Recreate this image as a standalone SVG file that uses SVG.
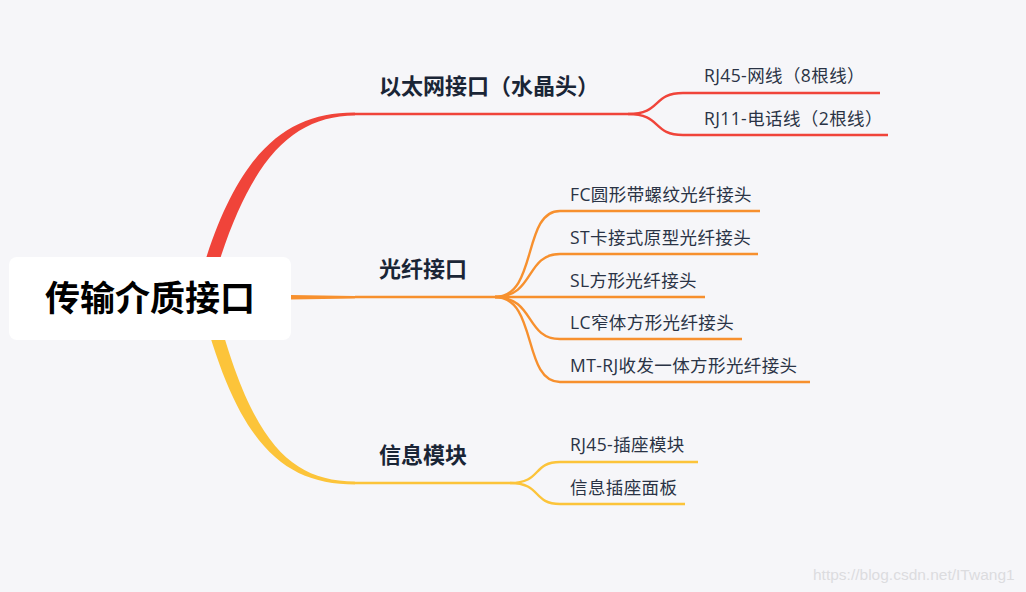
<svg xmlns="http://www.w3.org/2000/svg" width="1026" height="592" viewBox="0 0 1026 592">
<defs>
<style>
.main{font-family:"Noto Sans CJK SC","Noto Sans",sans-serif;font-weight:700;font-size:22px;fill:#1a2536}
.sub{font-family:"Open Sans","Noto Sans CJK SC",sans-serif;font-size:17.5px;letter-spacing:0.4px;fill:#2a3345}
.red{stroke:#f0443a;fill:none;stroke-width:2.4}
.org{stroke:#f7902e;fill:none;stroke-width:2.4}
.yel{stroke:#fcc43a;fill:none;stroke-width:2.4}
</style>
</defs>
<rect width="1026" height="592" fill="#f6f6f9"/>
<g id="connectors">
<path d="M194,300 C230,160 280,112 355,112.5 L355,115.5 C288,116 244,165 208,300 Z" fill="#f0443a"/>
<path class="red" d="M355,114 L628,114"/>
<path class="red" d="M628,114 C662,114 652,93 683,93 L880,93"/>
<path class="red" d="M628,114 C662,114 652,135 683,135 L888,135"/>
<path d="M291,295 L355,296 L355,298.5 L291,299.5 Z" fill="#f7902e"/>
<path class="org" d="M355,297 L495,297"/>
<path class="org" d="M495,297 C538,297 522,211 560,211 L760,211"/>
<path class="org" d="M495,297 C535,297 525,254 560,254 L758,254"/>
<path class="org" d="M495,297 L705,297"/>
<path class="org" d="M495,297 C535,297 525,339 560,339 L742,339"/>
<path class="org" d="M495,297 C538,297 522,382 560,382 L810,382"/>
<path d="M200,300 C236,440 280,484.5 355,484.5 L355,481.5 C288,481 250,440 214,300 Z" fill="#fcc43a"/>
<path class="yel" d="M355,483 L510,483"/>
<path class="yel" d="M510,483 C542,483 532,462 560,462 L698,462"/>
<path class="yel" d="M510,483 C542,483 532,504 560,504 L685,504"/>
</g>
<g id="root">
<rect x="9" y="257" width="282" height="83" rx="8" fill="#ffffff"/>
<text x="150" y="311" text-anchor="middle" font-family="'Noto Sans CJK SC',sans-serif" font-weight="700" font-size="35" fill="#000">传输介质接口</text>
</g>
<g id="n-eth"><text class="main" x="379" y="94">以太网接口（水晶头）</text></g>
<g id="n-rj45"><text class="sub" x="704" y="82">RJ45-网线（8根线）</text></g>
<g id="n-rj11"><text class="sub" x="704" y="125">RJ11-电话线（2根线）</text></g>
<g id="n-fiber"><text class="main" x="379" y="277">光纤接口</text></g>
<g id="n-fc"><text class="sub" x="570" y="201">FC圆形带螺纹光纤接头</text></g>
<g id="n-st"><text class="sub" x="570" y="244">ST卡接式原型光纤接头</text></g>
<g id="n-sl"><text class="sub" x="570" y="287">SL方形光纤接头</text></g>
<g id="n-lc"><text class="sub" x="570" y="329">LC窄体方形光纤接头</text></g>
<g id="n-mt"><text class="sub" x="570" y="372">MT-RJ收发一体方形光纤接头</text></g>
<g id="n-info"><text class="main" x="379" y="463">信息模块</text></g>
<g id="n-rj45m"><text class="sub" x="570" y="451">RJ45-插座模块</text></g>
<g id="n-panel"><text class="sub" x="570" y="494">信息插座面板</text></g>
<text x="813" y="580" font-family="'Liberation Sans',sans-serif" font-size="15.5" fill="#dcdcdf">https://blog.csdn.net/ITwang1</text>
</svg>
